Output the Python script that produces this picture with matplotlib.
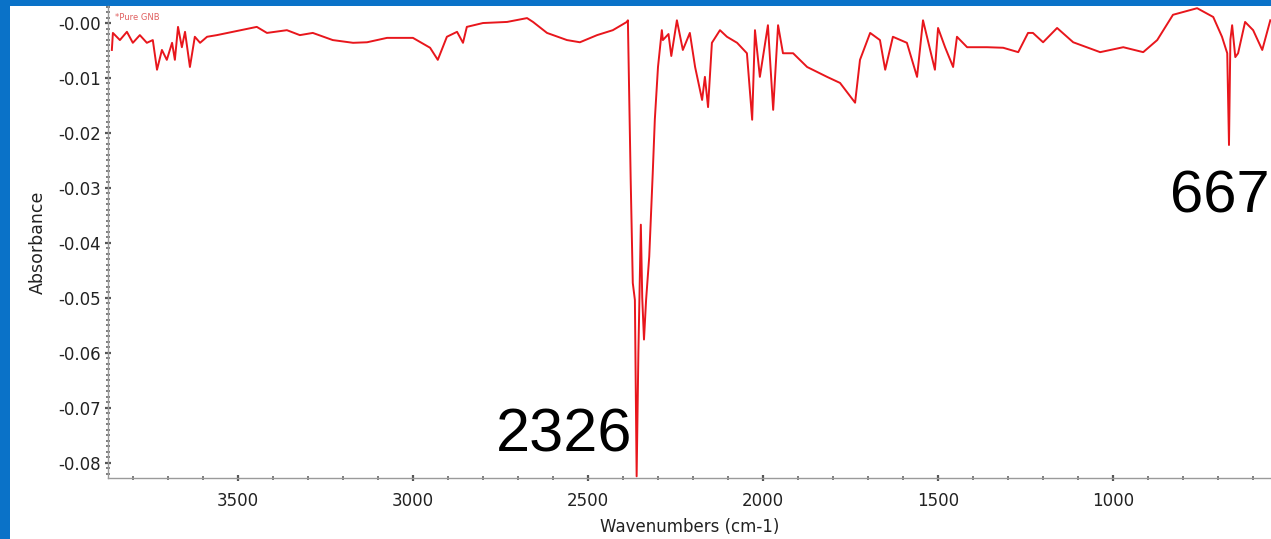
import matplotlib
matplotlib.use("Agg")
import matplotlib.pyplot as plt
from matplotlib.patches import Rectangle
from matplotlib.ticker import MultipleLocator, FixedLocator, FixedFormatter

# ---- data ----
wavenumber = [3860, 3857, 3837, 3817, 3800, 3780, 3760, 3743, 3731, 3717,
              3703, 3688, 3680, 3671, 3660, 3651, 3637, 3623, 3608, 3588,
              3560, 3514, 3446, 3417, 3360, 3323, 3286, 3229, 3171, 3131,
              3074, 3000, 2951, 2929, 2903, 2874, 2857, 2846, 2800, 2731,
              2674, 2657, 2617, 2560, 2523, 2474, 2429, 2389, 2386,
              2382, 2378, 2372, 2366, 2361, 2356, 2349, 2345, 2340, 2334,
              2325, 2315, 2309, 2300, 2289, 2286, 2270, 2262, 2246, 2229,
              2209, 2194, 2174, 2166, 2157, 2146, 2123, 2103, 2074, 2046,
              2031, 2023, 2009, 1986, 1971, 1957, 1943, 1914, 1874, 1817,
              1780, 1737, 1723, 1694, 1666, 1651, 1629, 1589, 1560, 1543,
              1509, 1500, 1480, 1457, 1446, 1417, 1360, 1314, 1271, 1243,
              1229, 1200, 1160, 1114, 1037, 971, 914, 874, 829, 760,
              714, 689, 674, 669, 665, 660, 651, 643, 623, 600,
              574, 551]
absorbance = [-0.0049, -0.0018, -0.0031, -0.0016, -0.0036, -0.0022, -0.0036, -0.0031, -0.0085, -0.0049,
              -0.0067, -0.0036, -0.0067, -0.0007, -0.0044, -0.0016, -0.0080, -0.0025, -0.0036, -0.0025,
              -0.0022, -0.0016, -0.0007, -0.0018, -0.0013, -0.0022, -0.0018, -0.0031, -0.0036, -0.0035,
              -0.0027, -0.0027, -0.0045, -0.0067, -0.0025, -0.0016, -0.0036, -0.0007, 0.0000, 0.0002,
              0.0009, 0.0002, -0.0018, -0.0031, -0.0035, -0.0022, -0.0013, 0.0002, 0.0005,
              -0.0140, -0.0285, -0.0473, -0.0504, -0.0825, -0.0600, -0.0367, -0.0500, -0.0576, -0.0504,
              -0.0425, -0.0273, -0.0175, -0.0080, -0.0013, -0.0031, -0.0020, -0.0060, 0.0005, -0.0049,
              -0.0018, -0.0080, -0.0140, -0.0098, -0.0153, -0.0036, -0.0013, -0.0025, -0.0036, -0.0055,
              -0.0176, -0.0013, -0.0098, -0.0004, -0.0158, -0.0004, -0.0055, -0.0055, -0.0080, -0.0098,
              -0.0109, -0.0145, -0.0067, -0.0018, -0.0031, -0.0085, -0.0025, -0.0036, -0.0098, 0.0005,
              -0.0085, -0.0009, -0.0044, -0.0080, -0.0025, -0.0044, -0.0044, -0.0045, -0.0053, -0.0018,
              -0.0018, -0.0035, -0.0009, -0.0035, -0.0053, -0.0044, -0.0053, -0.0031, 0.0015, 0.0027,
              0.0011, -0.0025, -0.0055, -0.0222, -0.0030, -0.0004, -0.0062, -0.0055, 0.0002, -0.0013,
              -0.0049, 0.0005]

x_ticks = [3500, 3000, 2500, 2000, 1500, 1000]
x_tick_labels = ["3500", "3000", "2500", "2000", "1500", "1000"]
y_ticks = [0.0, -0.01, -0.02, -0.03, -0.04, -0.05, -0.06, -0.07, -0.08]
y_tick_labels = ["-0.00", "-0.01", "-0.02", "-0.03", "-0.04", "-0.05", "-0.06", "-0.07", "-0.08"]

peak_labels = ["2326", "667"]
peak_label_pos = [(2374, -0.0780), (838, -0.0344)]
legend_label = "*Pure GNB"

# ---- figure ----
W, H = 1271, 539
BLUE = "#0A72C8"
fig = plt.figure(figsize=(W / 100, H / 100), dpi=100)
fig.patch.set_facecolor("white")
# blue frame strips (left and top)
fig.patches.append(Rectangle((0, 0), 10 / W, 1, transform=fig.transFigure,
                             facecolor=BLUE, edgecolor="none", zorder=-5))
fig.patches.append(Rectangle((0, 1 - 6 / H), 1, 6 / H, transform=fig.transFigure,
                             facecolor=BLUE, edgecolor="none", zorder=-5))

ax = fig.add_axes([108 / W, 1 - 478 / H, (W - 108) / W, (478 - 6) / H])
ax.patch.set_alpha(0)
ax.plot(wavenumber, absorbance, color="#E8161C", lw=1.4)

ax.set_xlim(3871, 549)
ax.set_ylim(-0.0828, 0.0031)

for s in ["top", "right"]:
    ax.spines[s].set_visible(False)
for s in ["left", "bottom"]:
    ax.spines[s].set_color("#9a9a9a")
    ax.spines[s].set_linewidth(1.0)

ax.xaxis.set_major_locator(FixedLocator(x_ticks))
ax.xaxis.set_major_formatter(FixedFormatter(x_tick_labels))
ax.xaxis.set_minor_locator(MultipleLocator(100))
ax.yaxis.set_major_locator(FixedLocator(y_ticks))
ax.yaxis.set_major_formatter(FixedFormatter(y_tick_labels))
ax.yaxis.set_minor_locator(MultipleLocator(0.001))

ax.tick_params(which="major", direction="inout", length=4, width=1.6,
               color="#555555", labelsize=12, labelcolor="#222222")
ax.tick_params(which="minor", direction="inout", length=2.5, width=1.2,
               color="#666666")
ax.tick_params(axis="x", which="major", pad=8)
ax.tick_params(axis="y", which="major", pad=3)

ax.set_xlabel("Wavenumbers (cm-1)", fontsize=12, color="#222222", labelpad=6)
ax.set_ylabel("Absorbance", fontsize=12.5, color="#222222", labelpad=8)

ax.text(0.006, 0.985, legend_label, transform=ax.transAxes, fontsize=6,
        color="#E06060", va="top", ha="left")

ax.text(peak_label_pos[0][0], peak_label_pos[0][1], peak_labels[0],
        fontsize=44, family="Liberation Sans", ha="right", va="baseline",
        color="black")
ax.text(peak_label_pos[1][0], peak_label_pos[1][1], peak_labels[1],
        fontsize=43, family="Liberation Sans", ha="left", va="baseline",
        color="black", clip_on=False)

fig.savefig("out.png", dpi=100, facecolor="white")
